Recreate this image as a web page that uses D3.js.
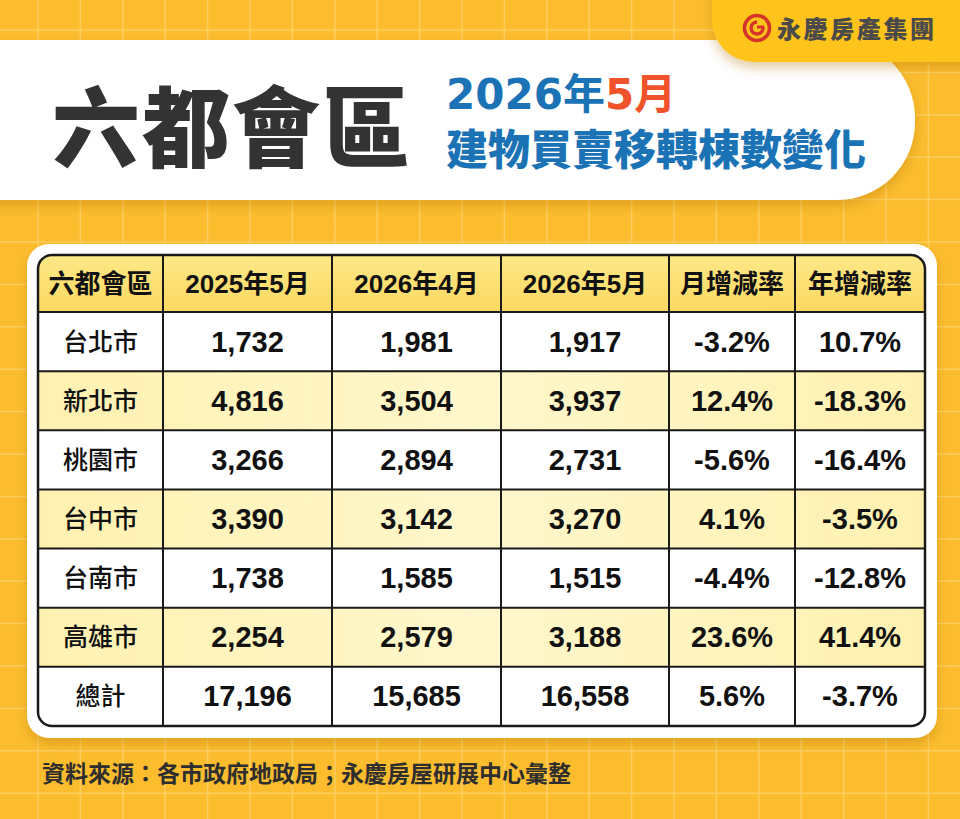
<!DOCTYPE html>
<html>
<head>
<meta charset="utf-8">
<script src="https://cdn.jsdelivr.net/npm/d3@7"></script>
<style>
  body { margin: 0; background: #fbbd2e; }
  svg { display: block; }
  text { font-family: "Noto Sans CJK TC", "Noto Sans", sans-serif; }
</style>
</head>
<body>
<svg id="chart" width="960" height="819"></svg>
<script>
// 表格資料
const headers = ["六都會區", "2025年5月", "2026年4月", "2026年5月", "月增減率", "年增減率"];
const cities = ["台北市", "新北市", "桃園市", "台中市", "台南市", "高雄市", "總計"];
const may2025 = [1732, 4816, 3266, 3390, 1738, 2254, 17196];
const apr2026 = [1981, 3504, 2894, 3142, 1585, 2579, 15685];
const may2026 = [1917, 3937, 2731, 3270, 1515, 3188, 16558];
const momRate = [-3.2, 12.4, -5.6, 4.1, -4.4, 23.6, 5.6];
const yoyRate = [10.7, -18.3, -16.4, -3.5, -12.8, 41.4, -3.7];

const W = 960, H = 819;
const svg = d3.select("#chart");
const defs = svg.append("defs");

const shadow = defs.append("filter").attr("id", "shadow")
    .attr("x", "-10%").attr("y", "-20%").attr("width", "130%").attr("height", "150%");
shadow.append("feDropShadow").attr("dx", 0).attr("dy", 6).attr("stdDeviation", 6)
    .attr("flood-color", "#b07000").attr("flood-opacity", 0.35);

const headGrad = defs.append("linearGradient").attr("id", "headGrad")
    .attr("x1", 0).attr("y1", 0).attr("x2", 0).attr("y2", 1);
headGrad.append("stop").attr("offset", "0%").attr("stop-color", "#fde888");
headGrad.append("stop").attr("offset", "100%").attr("stop-color", "#fcd860");

const rowGrad = defs.append("linearGradient").attr("id", "rowGrad")
    .attr("x1", 0).attr("y1", 0).attr("x2", 1).attr("y2", 0);
rowGrad.append("stop").attr("offset", "0%").attr("stop-color", "#fef1b0");
rowGrad.append("stop").attr("offset", "50%").attr("stop-color", "#fff7cc");
rowGrad.append("stop").attr("offset", "100%").attr("stop-color", "#fef1b0");

// 背景格線
svg.append("rect").attr("width", W).attr("height", H).attr("fill", "#fbbd2e");
const grid = svg.append("g").attr("stroke", "#fdd36e").attr("stroke-width", 1.5).attr("opacity", 0.8);
d3.range(38, W, 42.4).forEach(x => {
    grid.append("line").attr("x1", x).attr("x2", x).attr("y1", 0).attr("y2", H);
});
d3.range(30, H, 42.4).forEach(y => {
    grid.append("line").attr("y1", y).attr("y2", y).attr("x1", 0).attr("x2", W);
});

// 標題橫幅
svg.append("rect")
    .attr("x", -100).attr("y", 40).attr("width", 1015).attr("height", 160).attr("rx", 78)
    .attr("fill", "#ffffff").attr("filter", "url(#shadow)");

// 右上角標誌
svg.append("rect")
    .attr("x", 712).attr("y", -60).attr("width", 320).attr("height", 122).attr("rx", 42)
    .attr("fill", "#ffc41c").attr("filter", "url(#shadow)");
const logo = svg.append("g").attr("transform", "translate(757,28)");
logo.append("circle").attr("r", 12.5).attr("fill", "none").attr("stroke", "#d6332a").attr("stroke-width", 3.6);
logo.append("path").attr("d", "M6,-1 A6,6 0 1 1 0,-6").attr("fill", "none")
    .attr("stroke", "#d6332a").attr("stroke-width", 3.4);
logo.append("path").attr("d", "M0,-1 L7,-1").attr("stroke", "#d6332a").attr("stroke-width", 3);
svg.append("text").attr("x", 777).attr("y", 38)
    .attr("font-size", 24).attr("font-weight", 900).attr("fill", "#4a4a4a")
    .attr("letter-spacing", 2.6)
    .text("永慶房產集團");

// 主標題
svg.append("text").attr("x", 52).attr("y", 160)
    .attr("font-size", 88).attr("font-weight", 900).attr("fill", "#333333")
    .attr("letter-spacing", 2)
    .text("六都會區");

const sub1 = svg.append("text").attr("x", 446).attr("y", 109)
    .attr("font-size", 42).attr("font-weight", 700).attr("fill", "#1b73b6")
    .style("font-family", "'DejaVu Sans', 'Noto Sans CJK TC', sans-serif");
sub1.append("tspan").text("2026年");
sub1.append("tspan").attr("fill", "#f0522b").text("5月");

svg.append("text").attr("x", 446).attr("y", 165)
    .attr("font-size", 42).attr("font-weight", 900).attr("fill", "#1b73b6")
    .text("建物買賣移轉棟數變化");

// 表格卡片
svg.append("rect").attr("x", 27).attr("y", 244).attr("width", 910).attr("height", 494)
    .attr("rx", 22).attr("fill", "#ffffff").attr("filter", "url(#shadow)");

const colEdges = [38, 163, 332, 501, 669, 795, 925];
const tableTop = 255, headBottom = 312, tableBottom = 726;

const y = d3.scaleBand().domain(cities).range([headBottom, tableBottom]);

const clip = defs.append("clipPath").attr("id", "tableClip");
clip.append("rect").attr("x", colEdges[0]).attr("y", tableTop)
    .attr("width", colEdges[6] - colEdges[0]).attr("height", tableBottom - tableTop).attr("rx", 14);

const table = svg.append("g").attr("clip-path", "url(#tableClip)");

table.append("rect").attr("x", colEdges[0]).attr("y", tableTop)
    .attr("width", colEdges[6] - colEdges[0]).attr("height", headBottom - tableTop)
    .attr("fill", "url(#headGrad)");

table.selectAll("rect.row").data(cities).enter().append("rect")
    .attr("class", "row")
    .attr("x", colEdges[0]).attr("y", d => y(d))
    .attr("width", colEdges[6] - colEdges[0]).attr("height", y.bandwidth())
    .attr("fill", (d, i) => i % 2 === 1 ? "url(#rowGrad)" : "#ffffff");

// 格線
const lines = svg.append("g").attr("stroke", "#1a1a1a").attr("stroke-width", 2);
colEdges.slice(1, -1).forEach(x => {
    lines.append("line").attr("x1", x).attr("x2", x).attr("y1", tableTop).attr("y2", tableBottom);
});
[headBottom].concat(cities.slice(1).map(c => y(c))).forEach(yy => {
    lines.append("line").attr("x1", colEdges[0]).attr("x2", colEdges[6]).attr("y1", yy).attr("y2", yy);
});
svg.append("rect").attr("x", colEdges[0]).attr("y", tableTop)
    .attr("width", colEdges[6] - colEdges[0]).attr("height", tableBottom - tableTop)
    .attr("rx", 14).attr("fill", "none").attr("stroke", "#1a1a1a").attr("stroke-width", 2.5);

const colCenter = i => (colEdges[i] + colEdges[i + 1]) / 2;

// 表頭
svg.selectAll("text.head").data(headers).enter().append("text")
    .attr("class", "head")
    .attr("x", (d, i) => colCenter(i)).attr("y", (tableTop + headBottom) / 2 + 9)
    .attr("text-anchor", "middle")
    .attr("font-size", i => 26).attr("font-weight", 700).attr("fill", "#111")
    .style("font-family", "'Liberation Sans', 'Noto Sans CJK TC', sans-serif")
    .text(d => d);

const fmt = d3.format(",");
const pct = v => v.toFixed(1) + "%";

const rows = cities.map((c, i) => [c, fmt(may2025[i]), fmt(apr2026[i]), fmt(may2026[i]), pct(momRate[i]), pct(yoyRate[i])]);

rows.forEach((r, ri) => {
    const cy = y(cities[ri]) + y.bandwidth() / 2;
    r.forEach((val, ci) => {
        const t = svg.append("text")
            .attr("x", colCenter(ci)).attr("y", cy + 10)
            .attr("text-anchor", "middle")
            .attr("fill", "#111")
            .text(val);
        if (ci === 0) {
            t.attr("font-size", 25).attr("font-weight", 500).attr("y", cy + 9);
        } else {
            t.attr("font-size", 29).attr("font-weight", 700)
                .style("font-family", "'Liberation Sans', Arial, sans-serif");
        }
    });
});

// 資料來源
svg.append("text").attr("x", 42).attr("y", 782)
    .attr("font-size", 23).attr("font-weight", 700).attr("fill", "#2e2e2e")
    .text("資料來源：各市政府地政局；永慶房屋研展中心彙整");
</script>
</body>
</html>
